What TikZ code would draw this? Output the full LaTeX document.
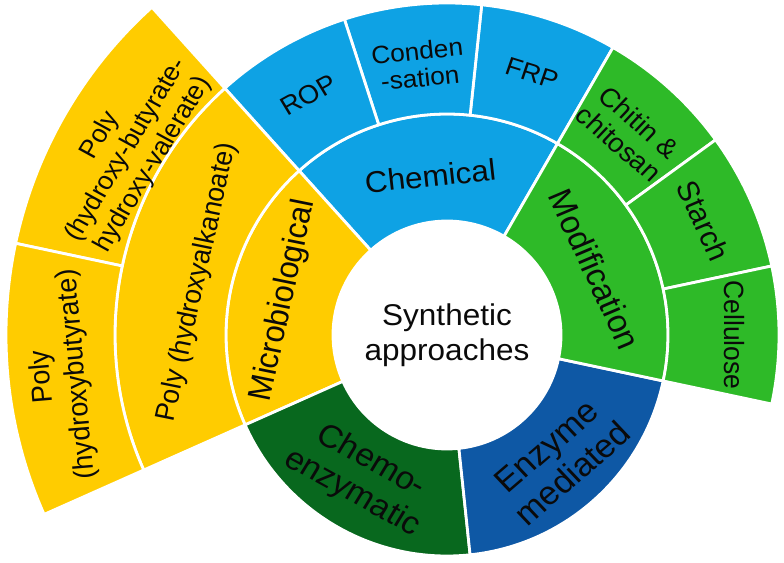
\documentclass[tikz,border=0pt]{standalone}
\usepackage{fontspec}
\setmainfont{Liberation Sans}
\usetikzlibrary{calc}
\definecolor{yellowC}{RGB}{255,204,0}
\definecolor{blueC}{RGB}{14,162,228}
\definecolor{greenC}{RGB}{46,186,40}
\definecolor{dkgreenC}{RGB}{8,104,30}
\definecolor{dkblueC}{RGB}{14,88,165}
\definecolor{txtC}{RGB}{10,10,10}
\begin{document}
\begin{tikzpicture}[x=1pt,y=1pt,
  seg/.style={draw=white, line width=2.8pt, line join=round},
  lbl/.style={text=txtC, align=center, inner sep=0pt, xscale=1.05}]
\useasboundingbox (0,0) rectangle (784,562);
\coordinate (C) at (447,227);
\newcommand\mysector[5]{%
  \filldraw[seg, fill=#1] ($(C)+(#2:#4)$) arc[start angle=#2, end angle=#3, radius=#4pt]
    -- ($(C)+(#3:#5)$) arc[start angle=#3, end angle=#2, radius=#5pt] -- cycle;}
% inner ring
\mysector{blueC}{60}{132}{114}{221}
\mysector{yellowC}{132}{204}{114}{221}
\mysector{dkgreenC}{204}{276}{114}{221}
\mysector{dkblueC}{276}{348}{114}{221}
\mysector{greenC}{-12}{60}{114}{221}
% second ring
\mysector{blueC}{60}{84}{221}{332}
\mysector{blueC}{84}{108}{221}{332}
\mysector{blueC}{108}{132}{221}{332}
\mysector{yellowC}{132}{204}{221}{332}
\mysector{greenC}{36}{60}{221}{332}
\mysector{greenC}{12}{36}{221}{332}
\mysector{greenC}{-12}{12}{221}{332}
% third ring
\mysector{yellowC}{132}{168}{332}{441}
\mysector{yellowC}{168}{204}{332}{441}
% labels
\node[lbl, font=\fontsize{30}{35}\selectfont] (center) at (C) {Synthetic\\approaches};
\node[lbl, font=\fontsize{30}{33}\selectfont, rotate=6] (chem) at ($(C)+(96:160)$) {Chemical};
\node[lbl, font=\fontsize{32}{35}\selectfont, rotate=-66] (modif) at ($(C)+(24:162)$) {Modification};
\node[lbl, font=\fontsize{33}{37}\selectfont, rotate=42] (enz) at ($(C)+(-48:168)$) {Enzyme\\mediated};
\node[lbl, font=\fontsize{32}{36}\selectfont, rotate=-30] (chemo) at ($(C)+(239:166)$) {Chemo-\\enzymatic};
\node[lbl, font=\fontsize{31}{34}\selectfont, rotate=78] (micro) at ($(C)+(168:167)$) {Microbiological};
\node[lbl, font=\fontsize{26.5}{30}\selectfont, rotate=78] (pha) at ($(C)+(168:255)$) {Poly (hydroxyalkanoate)};
\node[lbl, font=\fontsize{26}{29}\selectfont, rotate=30] (rop) at ($(C)+(120:277)$) {ROP};
\node[lbl, font=\fontsize{25}{27}\selectfont, rotate=6] (cond) at ($(C)+(96:272)$) {Conden\\-sation};
\node[lbl, font=\fontsize{25.5}{29}\selectfont, rotate=-18] (frp) at ($(C)+(72:275)$) {FRP};
\node[lbl, font=\fontsize{26.5}{29}\selectfont, rotate=-42] (chit) at ($(C)+(48:272)$) {Chitin \&\\chitosan};
\node[lbl, font=\fontsize{29}{32}\selectfont, rotate=-66] (starch) at ($(C)+(24:281)$) {Starch};
\node[lbl, font=\fontsize{26.5}{29}\selectfont, rotate=-90] (cell) at ($(C)+(0:287)$) {Cellulose};
\node[lbl, font=\fontsize{25.5}{29}\selectfont, rotate=60] (phbv) at ($(C)+(150:370)$) {Poly\\(hydroxy-butyrate-\\hydroxy-valerate)};
\node[lbl, font=\fontsize{27}{33}\selectfont, rotate=95] (phb) at ($(C)+(186:389)$) {Poly\\(hydroxybutyrate)};
\end{tikzpicture}
\end{document}
